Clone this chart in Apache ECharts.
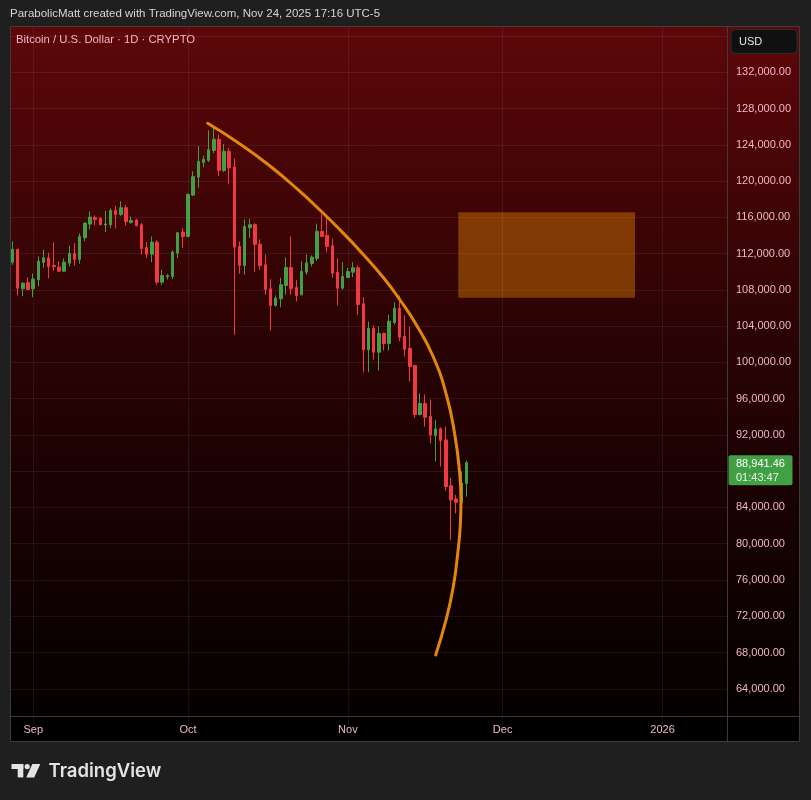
<!DOCTYPE html>
<html>
<head>
<meta charset="utf-8">
<script src="https://cdn.jsdelivr.net/npm/echarts@6/dist/echarts.min.js"></script>
<style>
html,body{margin:0;padding:0;background:#1e1e1e;}
#chart{width:811px;height:800px;}
</style>
</head>
<body>
<div id="chart"></div>
<script>
// ---------- DATA ----------
const startDate = '2025-08-28';   // first daily category
const dayCount = 139;             // categories shown on the time axis (to mid Jan 2026)

const openPrices = [111059,112461,108123,108818,108123,109116,111026,111545,110695,110507,
  110065,110949,112019,111357,113753,115254,115993,115916,115165,115188,
  116766,116325,117064,115441,115695,115188,112682,111942,113267,108851,
  109447,109480,112052,114371,113896,118455,120442,122065,122286,123389,
  124604,121182,123279,121546,112792,110695,114856,115188,113046,110772,
  108123,106279,107019,108487,110474,108266,107460,109955,110915,111467,
  114448,114006,112869,109955,108189,109370,109955,110441,106466,101389,
  103740,101124,103188,102084,104402,105981,102857,101566,99656,94247,
  95461,94059,91928,92668,91454,86409,84941,84566,86663];
const closePrices = [112461,108189,108741,108045,109182,111169,111545,110584,110551,110065,
  111059,112019,111357,113896,115364,116026,115773,115188,115276,116766,
  116325,117064,115519,115662,115077,112571,111942,113267,108851,109591,
  109591,112163,114304,113896,118532,120486,122175,122396,123467,124604,
  121182,123279,121480,112715,110695,115000,115188,113013,110662,108045,
  106279,107085,108564,110474,108123,107383,110032,110993,111611,114448,
  113896,112792,109845,108189,109480,110032,110441,106389,101389,103740,
  101124,103188,102084,104546,105981,102780,101455,99545,94247,95461,
  93949,92006,92668,91376,86298,84830,84566,86707,88941.46];
const lowPrices = [110772,107383,107306,107950,107195,108376,110441,109293,110143,109955,
  109999,110584,110662,110882,113377,114669,115110,115110,114371,114812,
  114779,116137,115077,115298,115000,111909,111500,111059,108564,108564,
  109149,109182,111500,112604,113800,118345,119272,121546,122098,123091,
  120553,120994,119714,103045,109778,109668,113753,109999,110220,107460,
  103519,106169,106092,107460,107460,106721,107400,109668,110584,111169,
  113819,112163,109337,106279,108045,109293,109403,105252,98916,98916,
  100285,99104,101311,101311,104181,102337,100649,97922,93882,94150,
  92922,91078,89091,88506,85857,80415,83351,84400,85195];
const highPrices = [113377,112571,108851,109370,109811,111688,112428,112097,113267,111169,
  111467,112869,113156,114227,115441,116656,116214,115993,116733,116987,
  117285,117793,117395,116104,115850,115364,113267,113896,113454,110220,
  109734,112350,114371,114812,118642,121071,123864,122804,125597,126149,
  125156,124085,123643,122473,113344,115773,115850,115364,113565,111909,
  109182,107383,109337,111578,113896,109072,111169,111909,111799,115298,
  116325,116026,113642,111467,111059,110441,111059,110695,107195,104513,
  104072,103961,103300,105252,106643,107383,105175,103961,99733,96598,
  96452,95902,93661,92844,92922,87259,85382,87954,89169];

// hand-drawn parabolic arc (day index from startDate, price)
const curveDays   = [37.83,44.09,49.91,55.39,59.93,63.48,67.36,71.87,75.11,78.35,81.57,84.16,85.77,86.61,86.93,86.80,86.30,85.44,84.03,82.03];
const curvePrices = [126375,124091,121665,119018,116614,114617,112301,109367,106885,104072,100597,96295,91884,88134,84825,82067,78946,75262,71589,67728];

// target box (day range, price range)
const boxDays   = [86.41, 120.67];
const boxPrices = [116558, 107139];

// axis ticks
const priceTicks = [64000,68000,72000,76000,80000,84000,88000,92000,96000,100000,104000,108000,112000,116000,120000,124000,128000,132000];
const monthTicks = ['2025-09-01','2025-10-01','2025-11-01','2025-12-01','2026-01-01'];
const monthTickLabels = ['Sep','Oct','Nov','Dec','2026'];

const lastPrice = 88941.46;
const countdown = '01:43:47';

const headerText = 'ParabolicMatt created with TradingView.com, Nov 24, 2025 17:16 UTC-5';
const titleText = 'Bitcoin / U.S. Dollar \u00b7 1D \u00b7 CRYPTO';

// ---------- BUILD ----------
function buildDates(start, n) {
  const out = [];
  const t0 = Date.parse(start + 'T00:00:00Z');
  for (let i = 0; i < n; i++) out.push(new Date(t0 + i * 86400000).toISOString().slice(0, 10));
  return out;
}
const categories = buildDates(startDate, dayCount);
const candleData = openPrices.map((o, i) => [o, closePrices[i], lowPrices[i], highPrices[i]]);
const curveData = curveDays.map((d, i) => [d, curvePrices[i]]);

const FONT = 'Liberation Sans';
const PINK = '#f2b6c4';
const UP = '#41a044';
const DOWN = '#ee3a43';
const GRIDLINE = 'rgba(255,255,255,0.065)';
const BORDER = '#3c3c3c';

const fmtPrice = v => v.toLocaleString('en-US', {minimumFractionDigits: 2, maximumFractionDigits: 2});
const isMonthTick = (idx, val) => monthTicks.indexOf(val) >= 0;

const chart = echarts.init(document.getElementById('chart'), null, {renderer: 'canvas'});

const staticGraphics = [
  {type: 'rect', z: -100, shape: {x: 0, y: 0, width: 811, height: 800}, style: {fill: '#1f1f1f'}},
  {type: 'rect', z: -90, shape: {x: 10, y: 26, width: 790, height: 690},
    style: {fill: {type: 'linear', x: 0, y: 0, x2: 0, y2: 1, colorStops: [
      {offset: 0, color: '#5e0709'}, {offset: 0.45, color: '#2a0304'}, {offset: 1, color: '#040000'}]}}},
  {type: 'rect', z: 1, shape: {x: 10, y: 716, width: 790, height: 26}, style: {fill: '#000000'}},
  {type: 'rect', z: 6, shape: {x: 10.5, y: 26.5, width: 789, height: 715}, style: {fill: null, stroke: BORDER, lineWidth: 1}},
  {type: 'line', z: 6, shape: {x1: 727.5, y1: 26, x2: 727.5, y2: 742}, style: {stroke: BORDER, lineWidth: 1}},
  {type: 'line', z: 6, shape: {x1: 10, y1: 716.5, x2: 800, y2: 716.5}, style: {stroke: BORDER, lineWidth: 1}},
  {type: 'text', z: 10, style: {text: headerText, x: 10, y: 14, verticalAlign: 'middle', fill: '#d4d4d4', font: '11.5px "' + FONT + '"'}},
  {type: 'text', z: 10, style: {text: titleText, x: 16, y: 40, verticalAlign: 'middle', fill: PINK, font: '11.3px "' + FONT + '"'}},
  {type: 'rect', z: 10, shape: {x: 731, y: 29.5, width: 66, height: 24, r: 4}, style: {fill: '#101010', stroke: '#2c2c2c', lineWidth: 1}},
  {type: 'text', z: 11, style: {text: 'USD', x: 739, y: 42, verticalAlign: 'middle', fill: '#e6e6e6', font: '11px "' + FONT + '"'}},
  // TradingView logo
  {type: 'rect', z: 10, shape: {x: 11.5, y: 764, width: 11.8, height: 5}, style: {fill: '#e4e4e4'}},
  {type: 'rect', z: 10, shape: {x: 17.7, y: 764, width: 5.6, height: 13.4}, style: {fill: '#e4e4e4'}},
  {type: 'circle', z: 10, shape: {cx: 27.2, cy: 766.6, r: 2.6}, style: {fill: '#e4e4e4'}},
  {type: 'polygon', z: 10, shape: {points: [[32.3, 764], [40.3, 764], [34.2, 777.4], [26.2, 777.4]]}, style: {fill: '#e4e4e4'}},
  {type: 'text', z: 10, style: {text: 'TradingView', x: 48.5, y: 771.5, verticalAlign: 'middle', fill: '#e4e4e4', font: '600 18.5px Inter'}}
];

chart.setOption({
  animation: false,
  backgroundColor: 'transparent',
  grid: {left: 10, top: 26, width: 717, height: 699.05, containLabel: false, outerBoundsMode: 'none'},
  xAxis: [
    {
      type: 'category', data: categories, boundaryGap: true, z: 8,
      axisLine: {show: false}, axisTick: {show: false},
      axisLabel: {interval: isMonthTick, formatter: v => monthTickLabels[monthTicks.indexOf(v)] || '',
        color: PINK, fontSize: 11, fontFamily: FONT, margin: 5, verticalAlign: 'middle'},
      splitLine: {show: false}
    },
    {type: 'value', min: -0.5, max: dayCount - 0.5, show: false}
  ],
  yAxis: {
    type: 'value', position: 'right', min: 60000, max: 137107, interval: 4000,
    axisLine: {show: false}, axisTick: {show: false},
    axisLabel: {margin: 9, color: PINK, fontSize: 11, fontFamily: FONT,
      formatter: v => priceTicks.indexOf(v) >= 0 ? fmtPrice(v) : ''},
    splitLine: {show: true, lineStyle: {color: GRIDLINE, width: 1}}
  },
  series: [
    {
      type: 'candlestick', xAxisIndex: 0, yAxisIndex: 0, data: candleData, barWidth: 3,
      itemStyle: {color: UP, color0: DOWN, borderColor: UP, borderColor0: DOWN, borderWidth: 1},
      z: 3,
      markLine: {silent: true, symbol: ['none', 'none'], label: {show: false},
        lineStyle: {color: GRIDLINE, type: 'solid', width: 1},
        data: monthTicks.map(d => ({xAxis: d}))}
    },
    {
      type: 'line', xAxisIndex: 1, yAxisIndex: 0, data: curveData, smooth: 0.5,
      showSymbol: false, symbol: 'none', z: 4,
      lineStyle: {color: '#e2870a', width: 3, cap: 'round'},
      markArea: {silent: true, itemStyle: {color: 'rgba(255,152,0,0.36)'},
        data: [[{coord: [boxDays[0], boxPrices[0]]}, {coord: [boxDays[1], boxPrices[1]]}]]}
    }
  ],
  graphic: staticGraphics
});

// live price label placed through the y scale
const py = chart.convertToPixel({yAxisIndex: 0}, lastPrice);
chart.setOption({
  graphic: staticGraphics.concat([
    {type: 'rect', z: 12, shape: {x: 728.5, y: py - 7.5, width: 64, height: 30, r: 2}, style: {fill: UP}},
    {type: 'text', z: 13, style: {text: fmtPrice(lastPrice), x: 736, y: py + 1.5, verticalAlign: 'middle', fill: '#ffffff', font: '11px "' + FONT + '"'}},
    {type: 'text', z: 13, style: {text: countdown, x: 736, y: py + 15.5, verticalAlign: 'middle', fill: '#eaf6ea', font: '11px "' + FONT + '"'}}
  ])
}, {replaceMerge: ['graphic']});
</script>
</body>
</html>
